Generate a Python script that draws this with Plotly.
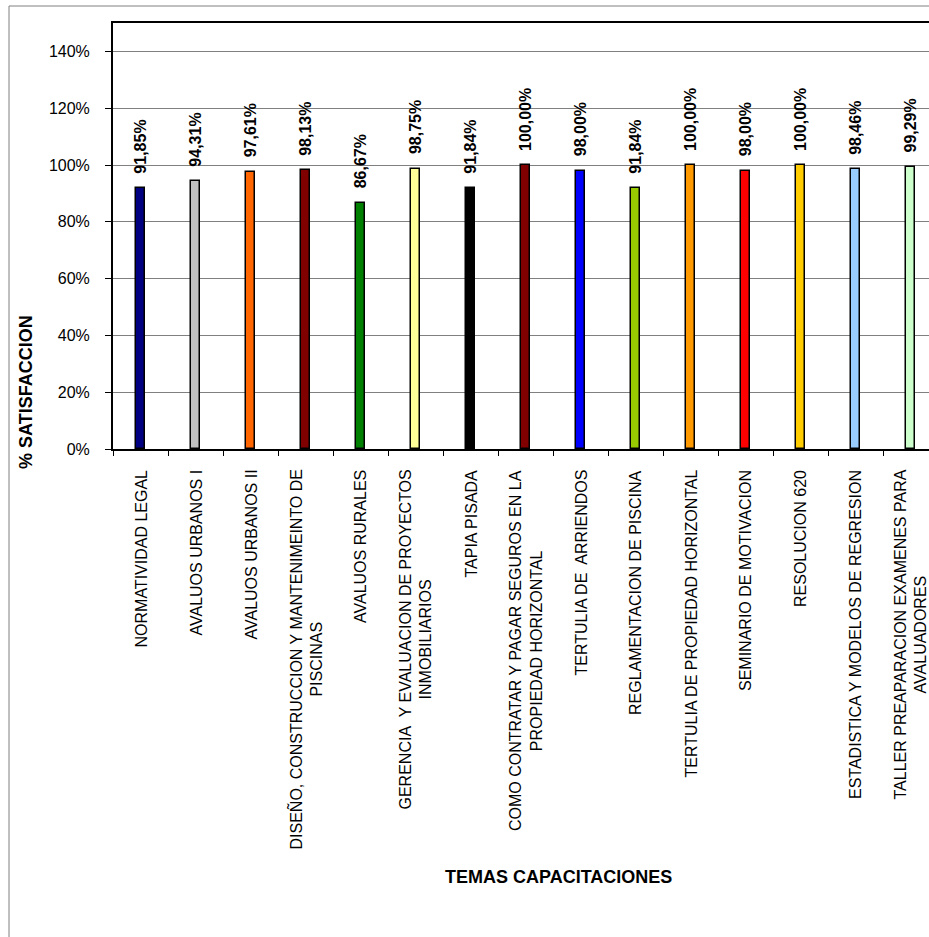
import plotly.graph_objects as go

categories = [
    "NORMATIVIDAD LEGAL",
    "AVALUOS URBANOS I",
    "AVALUOS URBANOS II",
    "DISEÑO, CONSTRUCCION Y MANTENIMEINTO DE<br>PISCINAS",
    "AVALUOS RURALES",
    "GERENCIA\u00a0 Y EVALUACION DE PROYECTOS<br>INMOBILIARIOS",
    "TAPIA PISADA",
    "COMO CONTRATAR Y PAGAR SEGUROS EN LA<br>PROPIEDAD HORIZONTAL",
    "TERTULIA DE\u00a0 ARRIENDOS",
    "REGLAMENTACION DE PISCINA",
    "TERTULIA DE PROPIEDAD HORIZONTAL",
    "SEMINARIO DE MOTIVACION",
    "RESOLUCION 620",
    "ESTADISTICA Y MODELOS DE REGRESION",
    "TALLER PREAPARACION EXAMENES PARA<br>AVALUADORES",
]
values = [91.85, 94.31, 97.61, 98.13, 86.67, 98.75, 91.84, 100.00,
          98.00, 91.84, 100.00, 98.00, 100.00, 98.46, 99.29]
colors = ["#000080", "#C0C0C0", "#FF6600", "#800000", "#008000", "#FFFF99",
          "#000000", "#800000", "#0000FF", "#99CC00", "#FF9900", "#FF0000",
          "#FFCC00", "#99CCFF", "#CCFFCC"]
y_ticks = [0, 0.2, 0.4, 0.6, 0.8, 1.0, 1.2, 1.4]
y_title = "% SATISFACCION"
x_title = "TEMAS CAPACITACIONES"

FONT = "Liberation Sans, Arial, sans-serif"

W, H = 929, 937
L, T = 113, 23
PLOT_BOTTOM = 449
B = H - PLOT_BOTTOM
PW = W - L
PH = PLOT_BOTTOM - T
CAT_W = 55.0

x_ids = list(range(len(categories)))
fracs = [v / 100 for v in values]

fig = go.Figure()
fig.add_trace(go.Bar(
    x=x_ids, y=fracs, width=0.18,
    marker=dict(color=colors, line=dict(color="black", width=1.5)),
    showlegend=False, hoverinfo="skip",
))

annotations = []
# data labels
for xi, v, f in zip(x_ids, values, fracs):
    annotations.append(dict(
        x=xi, y=f, xref="x", yref="y", text=f"{v:.2f}%".replace(".", ","),
        textangle=-90, showarrow=False, xanchor="center", yanchor="bottom",
        yshift=12, font=dict(family=FONT, size=16, color="black", weight="bold"),
    ))
# category labels
for xi, c in zip(x_ids, categories):
    annotations.append(dict(
        x=xi, y=0, xref="x", yref="paper", text=c, textangle=-90,
        showarrow=False, xanchor="center", yanchor="top", yshift=-19,
        align="center", font=dict(family=FONT, size=16, color="black"),
    ))
# axis titles
annotations.append(dict(
    x=(26 - L) / PW, y=(PLOT_BOTTOM - 392) / PH, xref="paper", yref="paper",
    text=y_title, textangle=-90, showarrow=False, xanchor="center", yanchor="middle",
    font=dict(family=FONT, size=18, color="black", weight="bold"),
))
annotations.append(dict(
    x=(558 - L) / PW, y=(PLOT_BOTTOM - 877) / PH, xref="paper", yref="paper",
    text=x_title, showarrow=False, xanchor="center", yanchor="middle",
    font=dict(family=FONT, size=18, color="black", weight="bold"),
))

shapes = [dict(
    type="rect", xref="paper", yref="paper",
    x0=(9 - L) / PW, x1=1.2, y0=(PLOT_BOTTOM - 1000) / PH, y1=(PLOT_BOTTOM - 6) / PH,
    line=dict(color="#808080", width=1), fillcolor="rgba(0,0,0,0)", layer="below",
)]

fig.update_layout(
    width=W, height=H, margin=dict(l=L, r=0, t=T, b=B, pad=0),
    paper_bgcolor="white", plot_bgcolor="white",
    font=dict(family=FONT, size=16, color="black"),
    annotations=annotations, shapes=shapes, bargap=0,
)
fig.update_xaxes(
    range=[-0.5, -0.5 + PW / CAT_W], tickmode="array",
    tickvals=[i - 0.5 for i in range(len(categories) + 1)], ticktext=[""] * (len(categories) + 1),
    showticklabels=False, ticks="outside", ticklen=5, tickwidth=1, tickcolor="black",
    showline=True, linecolor="black", linewidth=2, mirror=True,
    showgrid=False, zeroline=False,
)
fig.update_yaxes(
    range=[0, 1.5], tickvals=y_ticks, tickformat=".0%",
    ticks="outside", ticklen=6, tickwidth=1, tickcolor="black",
    ticklabelstandoff=12,
    tickfont=dict(family=FONT, size=16, color="black"),
    showline=True, linecolor="black", linewidth=2,
    showgrid=True, gridcolor="#808080", gridwidth=1, zeroline=False,
)

fig.write_html("out.html")
